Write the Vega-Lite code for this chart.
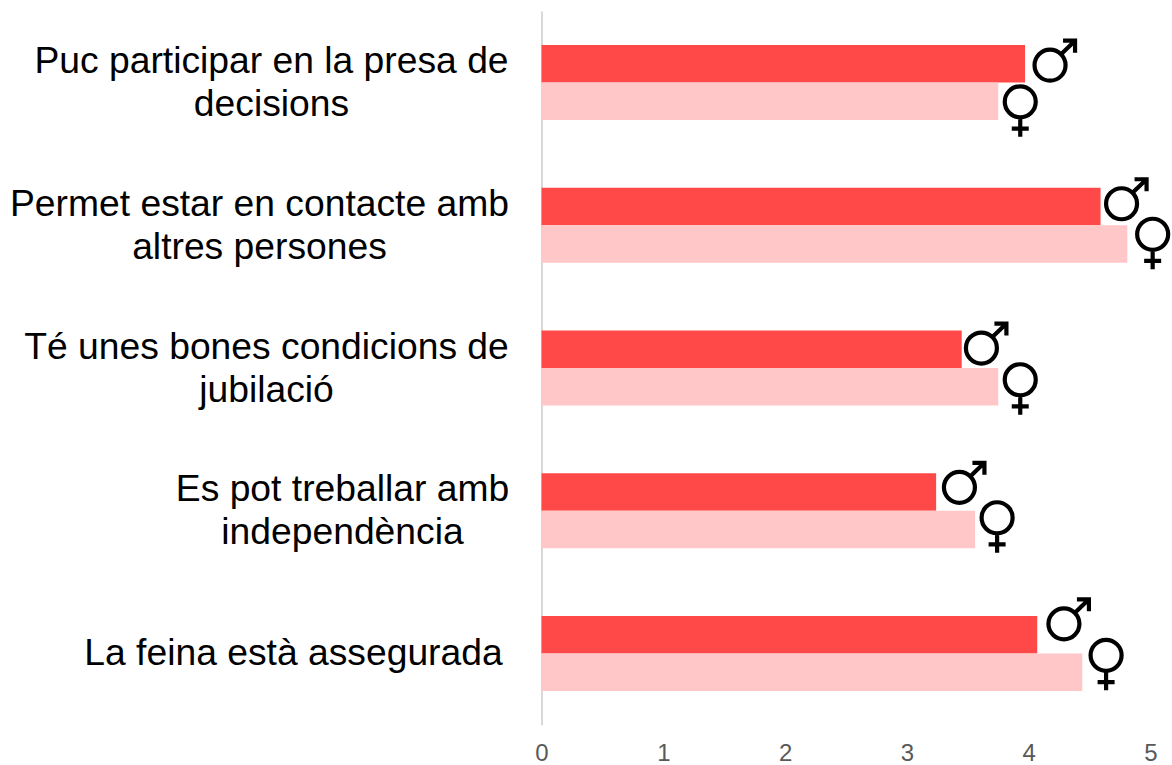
{
"$schema":"https://vega.github.io/schema/vega-lite/v6.json",
"width":609,"height":714,
"autosize":{"type":"none"},
"padding":{"left":541.5,"top":11,"right":21.5,"bottom":40},
"background":"white",
"config":{"view":{"stroke":null}},
"data":{"values":[
{"pregunta":"Puc participar en la presa de decisions","genere":"Home","valor":3.97,"icona":"H1"},
{"pregunta":"Puc participar en la presa de decisions","genere":"Dona","valor":3.75,"icona":"D1"},
{"pregunta":"Permet estar en contacte amb altres persones","genere":"Home","valor":4.59,"icona":"H2"},
{"pregunta":"Permet estar en contacte amb altres persones","genere":"Dona","valor":4.81,"icona":"D2"},
{"pregunta":"Té unes bones condicions de jubilació","genere":"Home","valor":3.45,"icona":"H3"},
{"pregunta":"Té unes bones condicions de jubilació","genere":"Dona","valor":3.75,"icona":"D3"},
{"pregunta":"Es pot treballar amb independència","genere":"Home","valor":3.24,"icona":"H4"},
{"pregunta":"Es pot treballar amb independència","genere":"Dona","valor":3.56,"icona":"D4"},
{"pregunta":"La feina està assegurada","genere":"Home","valor":4.07,"icona":"H5"},
{"pregunta":"La feina està assegurada","genere":"Dona","valor":4.44,"icona":"D5"}
]},
"encoding":{
"y":{"field":"pregunta","type":"nominal","sort":null,"title":null,
"scale":{"paddingInner":0.475,"paddingOuter":0.2375},
"axis":{"ticks":false,"grid":false,"domain":true,"domainColor":"#d9d9d9","domainWidth":2,
"labelFont":"Liberation Sans","labelFontSize":37.25,"labelColor":"#000000","labelPadding":0,"labelLimit":700,"labelLineHeight":43,"labelOverlap":false,"labelBound":false,"labelAlign":"center",
"labelExpr":"{'Puc participar en la presa de decisions':['Puc participar en la presa de','decisions'],'Permet estar en contacte amb altres persones':['Permet estar en contacte amb','altres persones'],'Té unes bones condicions de jubilació':['Té unes bones condicions de','jubilació'],'Es pot treballar amb independència':['Es pot treballar amb','independència'],'La feina està assegurada':'La feina està assegurada'}[datum.label]",
"encoding":{"labels":{
"dx":{"value":{"expr":"{'Puc participar en la presa de decisions':-270.5,'Permet estar en contacte amb altres persones':-282.5,'Té unes bones condicions de jubilació':-275.5,'Es pot treballar amb independència':-199.5,'La feina està assegurada':-248.5}[datum.value]"}},
"dy":{"value":{"expr":"datum.value==='La feina està assegurada'?0:-20.5"}}
}}}},
"yOffset":{"field":"genere","type":"nominal","sort":["Home","Dona"],"scale":{"paddingInner":0,"paddingOuter":0}},
"x":{"field":"valor","type":"quantitative","title":null,
"scale":{"domain":[0,5],"nice":false},
"axis":{"values":[0,1,2,3,4,5],"format":"d","ticks":false,"grid":false,"domain":false,"labelFont":"Liberation Sans","labelFontSize":24,"labelColor":"#595959","labelPadding":16,"labelBound":false,"labelFlush":false}}
},
"layer":[
{"mark":{"type":"bar","clip":false},
"encoding":{"color":{"field":"genere","type":"nominal","legend":null,"scale":{"domain":["Home","Dona"],"range":["#ff4848","#ffc7c7"]}}}},
{"mark":{"type":"point","filled":false,"stroke":"#000000","strokeWidth":4.2,"opacity":1,"size":4},
"encoding":{"shape":{"field":"icona","type":"nominal","legend":null,"scale":{"domain":["H1","H2","H3","H4","H5","D1","D2","D3","D4","D5"],"range":[
"M40.5 1.5A15.5 15.5 0 1 1 9.5 1.5A15.5 15.5 0 1 1 40.5 1.5ZM36 -9.5L50 -23M38 -23L50 -23L50 -11",
"M36.5 -2.7A15.5 15.5 0 1 1 5.5 -2.7A15.5 15.5 0 1 1 36.5 -2.7ZM32 -13.7L46 -27.2M34 -27.2L46 -27.2L46 -15.2",
"M35.2 -1.2A15.5 15.5 0 1 1 4.2 -1.2A15.5 15.5 0 1 1 35.2 -1.2ZM30.7 -12.2L44.7 -25.7M32.7 -25.7L44.7 -25.7L44.7 -13.7",
"M38.8 -4.7A15.5 15.5 0 1 1 7.8 -4.7A15.5 15.5 0 1 1 38.8 -4.7ZM34.3 -15.7L48.3 -29.2M36.3 -29.2L48.3 -29.2L48.3 -17.2",
"M42.2 -11A15.5 15.5 0 1 1 11.2 -11A15.5 15.5 0 1 1 42.2 -11ZM37.7 -22L51.7 -35.5M39.7 -35.5L51.7 -35.5L51.7 -23.5",
"M37.5 0.7A15.5 15.5 0 1 1 6.5 0.7A15.5 15.5 0 1 1 37.5 0.7ZM22 16.7L22 35.7M13.5 27.4L30.5 27.4",
"M40.8 -9.7A15.5 15.5 0 1 1 9.8 -9.7A15.5 15.5 0 1 1 40.8 -9.7ZM25.3 6.3L25.3 25.3M16.8 17L33.8 17",
"M37.5 -7A15.5 15.5 0 1 1 6.5 -7A15.5 15.5 0 1 1 37.5 -7ZM22 9L22 28M13.5 19.7L30.5 19.7",
"M37.5 -11.8A15.5 15.5 0 1 1 6.5 -11.8A15.5 15.5 0 1 1 37.5 -11.8ZM22 4.2L22 23.2M13.5 14.9L30.5 14.9",
"M39.3 -17A15.5 15.5 0 1 1 8.3 -17A15.5 15.5 0 1 1 39.3 -17ZM23.8 -1L23.8 18M15.3 9.7L32.3 9.7"
]}}}}
]
}
